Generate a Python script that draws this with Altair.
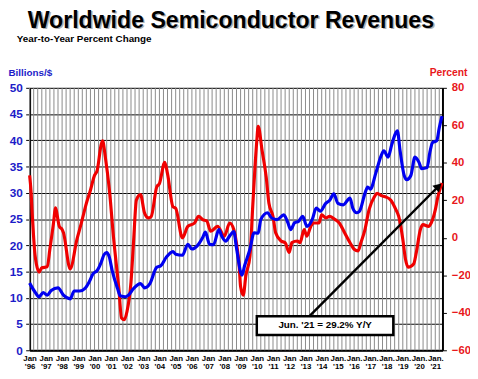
import altair as alt
import pandas as pd

TITLE = "Worldwide Semiconductor Revenues"
SUBTITLE = "Year-to-Year Percent Change"
LEFT_TITLE = "Billions/$"
RIGHT_TITLE = "Percent"
NOTE = "Jun. '21 = 29.2% Y/Y"

BLUE = "#0000f0"
BLUE_TXT = "#1c1cc8"
RED = "#f00000"
RED_TXT = "#e8181c"
FONT = "Liberation Sans"

# Monthly revenues (3-month average), billions of dollars
rev_months = [
    "1996-01", "1996-05", "1996-08", "1996-11", "1997-02", "1997-05", "1997-10",
    "1998-02", "1998-07", "1998-10", "1999-02", "1999-06", "1999-09", "1999-12",
    "2000-03", "2000-06", "2000-08", "2000-10", "2000-12", "2001-02", "2001-06",
    "2001-08", "2001-12", "2002-02", "2002-06", "2002-11", "2003-02", "2003-06",
    "2003-11", "2004-02", "2004-06", "2004-11", "2005-01", "2005-06", "2005-10",
    "2006-01", "2006-05", "2006-09", "2006-11", "2007-02", "2007-05", "2007-09",
    "2007-11", "2008-02", "2008-05", "2008-08", "2008-10", "2009-02", "2009-04",
    "2009-08", "2009-11", "2010-02", "2010-04", "2010-09", "2010-12", "2011-04",
    "2011-09", "2011-12", "2012-02", "2012-05", "2012-08", "2012-11", "2013-02",
    "2013-06", "2013-09", "2013-12", "2014-04", "2014-07", "2014-10", "2015-01",
    "2015-05", "2015-10", "2015-12", "2016-03", "2016-05", "2016-09", "2016-11",
    "2017-01", "2017-05", "2017-09", "2017-11", "2018-02", "2018-05", "2018-08",
    "2018-09", "2018-11", "2019-02", "2019-04", "2019-07", "2019-10", "2020-01",
    "2020-03", "2020-07", "2020-09", "2020-11", "2021-02", "2021-04", "2021-06",
]
rev_values = [
    12.8, 11.1, 10.2, 11.0, 10.5, 11.4, 11.9,
    10.5, 9.8, 11.3, 11.3, 11.8, 13.0, 14.6,
    15.2, 16.8, 18.2, 18.6, 17.7, 15.2, 11.8,
    10.4, 10.2, 10.5, 11.8, 12.7, 11.9, 12.7,
    15.8, 16.1, 17.7, 18.8, 18.3, 18.1, 20.2,
    19.3, 19.9, 21.5, 22.5, 20.2, 20.1, 23.0,
    21.8, 20.8, 21.8, 22.6, 19.5, 14.3, 16.1,
    19.3, 22.4, 22.3, 24.9, 26.2, 25.2, 24.9,
    25.8, 24.3, 23.0, 24.3, 24.6, 25.5, 23.6,
    24.9, 27.1, 26.5, 28.0, 28.6, 29.8, 28.0,
    27.7, 29.0, 27.1, 26.2, 26.5, 29.9, 31.1,
    30.7, 33.7, 37.1, 38.0, 36.8, 39.3, 41.5,
    41.8, 38.0, 33.3, 32.5, 33.3, 36.8, 35.8,
    34.6, 34.8, 37.7, 39.6, 39.9, 42.4, 44.6,
]

# Year-to-year percent change
pct_months = [
    "1996-01", "1996-02", "1996-03", "1996-04", "1996-05", "1996-06", "1996-08",
    "1996-10", "1997-02", "1997-04", "1997-07", "1997-08", "1997-11", "1998-01",
    "1998-02", "1998-07", "1998-12", "1999-03", "1999-07", "1999-10", "2000-01",
    "2000-03", "2000-06", "2000-07", "2000-09", "2000-12", "2001-03", "2001-07",
    "2001-09", "2001-11", "2002-01", "2002-04", "2002-06", "2002-08", "2002-11",
    "2003-02", "2003-05", "2003-07", "2003-11", "2004-01", "2004-05", "2004-07",
    "2004-11", "2005-01", "2005-06", "2005-10", "2006-03", "2006-06", "2006-09",
    "2006-12", "2007-03", "2007-08", "2008-01", "2008-05", "2008-08", "2008-10",
    "2008-12", "2009-01", "2009-03", "2009-05", "2009-08", "2009-10", "2010-01",
    "2010-02", "2010-05", "2010-08", "2010-10", "2011-01", "2011-03", "2011-07",
    "2011-10", "2012-01", "2012-03", "2012-07", "2012-09", "2012-12", "2013-02",
    "2013-05", "2013-07", "2013-11", "2014-01", "2014-04", "2014-07", "2014-11",
    "2015-02", "2015-06", "2015-10", "2016-01", "2016-04", "2016-06", "2016-09",
    "2016-12", "2017-04", "2017-06", "2017-09", "2017-12", "2018-04", "2018-08",
    "2018-10", "2019-01", "2019-03", "2019-05", "2019-09", "2019-11", "2020-02",
    "2020-04", "2020-08", "2020-10", "2021-01", "2021-03", "2021-06",
]
pct_values = [
    33.3, 25.0, 12.0, 0.0, -9.0, -14.0, -18.3,
    -16.0, -15.5, -6.0, 9.7, 16.0, 6.0, 4.4,
    2.7, -16.6, -0.8, 7.0, 18.4, 25.4, 33.3,
    36.0, 49.9, 51.7, 42.9, 25.4, 0.9, -27.0,
    -42.8, -43.7, -39.3, -23.6, -0.8, 20.2, 23.0,
    13.2, 10.6, 11.4, 27.1, 28.9, 40.3, 34.2,
    16.6, 15.8, 0.0, 6.1, 7.9, 11.4, 9.7,
    9.0, 3.5, 6.1, 0.9, 7.9, 4.4, -3.0,
    -15.0, -26.0, -30.6, -20.0, -9.6, 16.6, 51.7,
    59.5, 46.4, 32.4, 18.4, 11.4, 2.7, -1.7,
    -2.6, -7.8, -2.6, -1.7, -2.6, 4.4, 0.9,
    6.1, 7.9, 7.9, 12.3, 10.6, 11.4, 9.7,
    7.9, 2.7, -2.6, -6.1, -7.0, -2.6, 4.4,
    14.9, 21.9, 23.7, 22.5, 21.9, 20.2, 14.9,
    11.4, -0.8, -11.3, -15.7, -14.0, -7.8, 4.4,
    7.0, 6.1, 7.9, 14.9, 21.9, 29.2,
]

left_ticks = [0, 5, 10, 15, 20, 25, 30, 35, 40, 45, 50]
right_ticks = [80, 60, 40, 20, 0, -20, -40, -60]
label_years = list(range(1996, 2022))

# annotation anchors (date, percent)
arrow_from = ("2013-04-01", -41.8)
arrow_to = ("2021-03-15", 27.5)
box_x = ("2010-01-01", "2018-06-01")
box_y = (-41.8, -51.8)
note_at = ("2014-03-20", -46.8)

rev_df = pd.DataFrame({"date": [m + "-01" for m in rev_months], "value": rev_values})
pct_df = pd.DataFrame({"date": [m + "-01" for m in pct_months], "value": pct_values})
grid_df = pd.DataFrame({"date": pd.date_range("1996-01-01", "2021-04-01", freq="QS").strftime("%Y-%m-%d")})

W, H = 420, 267

x_scale = alt.Scale(
    type="utc",
    domain=[alt.DateTime(year=1996, month=1, date=1, utc=True),
            alt.DateTime(year=2021, month=6, date=12, utc=True)],
)
x_axis = alt.Axis(
    orient="bottom",
    values=[alt.DateTime(year=y, month=1, date=1, utc=True) for y in label_years],
    labelExpr="[utcyear(datum.value) >= 2015 ? 'Jan.' : 'Jan', \"'\" + utcFormat(datum.value, '%y')]",
    grid=False, ticks=False, domainColor="black", domainWidth=2,
    labelFont=FONT, labelFontSize=8, labelFontWeight="bold", labelColor="black",
    labelPadding=4, labelLineHeight=9, labelOverlap=False, labelBound=False, labelFlush=False,
    title=None,
)
X = alt.X("date:T", scale=x_scale, axis=x_axis)

pct_scale = alt.Scale(domain=[-60, 80], nice=False, zero=False)

vgrid = alt.Chart(grid_df).mark_rule(color="#8a8a8a", strokeWidth=1).encode(x=X)

red = alt.Chart(pct_df).mark_line(
    color=RED, strokeWidth=3.2, interpolate="monotone", strokeJoin="round"
).encode(
    x=X,
    y=alt.Y("value:Q", scale=pct_scale, axis=alt.Axis(
        orient="right", values=right_ticks, grid=False,
        domainColor="black", domainWidth=2, tickColor="black", tickSize=4, tickWidth=1,
        labelFont=FONT, labelFontSize=11.5, labelFontWeight="bold", labelColor=RED_TXT, labelPadding=5,
        title=RIGHT_TITLE, titleAngle=0, titleX=25, titleY=-13, titleAlign="right",
        titleBaseline="alphabetic", titleFont=FONT, titleFontSize=10.5, titleFontWeight="bold",
        titleColor=RED_TXT,
    )),
)

blue = alt.Chart(rev_df).mark_line(
    color=BLUE, strokeWidth=3.2, interpolate="monotone", strokeJoin="round"
).encode(
    x=X,
    y=alt.Y("value:Q", scale=alt.Scale(domain=[0, 50], nice=False), axis=alt.Axis(
        orient="left", values=left_ticks, grid=True, gridColor="black", gridWidth=1, gridOpacity=1,
        domainColor="black", domainWidth=2, tickColor="black", tickSize=4, tickWidth=1,
        labelFont=FONT, labelFontSize=12, labelFontWeight="bold", labelColor=BLUE_TXT, labelPadding=3.5,
        title=LEFT_TITLE, titleAngle=0, titleX=-22, titleY=-13, titleAlign="left",
        titleBaseline="alphabetic", titleFont=FONT, titleFontSize=10, titleFontWeight="bold",
        titleColor=BLUE_TXT,
    )),
)

ann_df = pd.DataFrame({
    "date": [arrow_from[0]], "date2": [arrow_to[0]],
    "p": [arrow_from[1]], "p2": [arrow_to[1]],
})
arrow = alt.Chart(ann_df).mark_rule(color="black", strokeWidth=2.5).encode(
    x=X, x2="date2:T",
    y=alt.Y("p:Q", scale=pct_scale, axis=None), y2="p2:Q",
)
head = alt.Chart(pd.DataFrame({"date": [arrow_to[0]], "p": [arrow_to[1]]})).mark_point(
    shape="triangle-up", angle=45, size=90, filled=True, color="black", opacity=1
).encode(x=X, y=alt.Y("p:Q", scale=pct_scale, axis=None))

box_df = pd.DataFrame({"date": [box_x[0]], "date2": [box_x[1]], "p": [box_y[0]], "p2": [box_y[1]]})
box = alt.Chart(box_df).mark_rect(fill="white", stroke="black", strokeWidth=2.5).encode(
    x=X, x2="date2:T", y=alt.Y("p:Q", scale=pct_scale, axis=None), y2="p2:Q",
)
note = alt.Chart(pd.DataFrame({"date": [note_at[0]], "p": [note_at[1]], "t": [NOTE]})).mark_text(
    font=FONT, fontSize=10, fontWeight="bold", color="black", align="center", baseline="middle"
).encode(x=X, y=alt.Y("p:Q", scale=pct_scale, axis=None), text="t:N")

annotations = alt.layer(arrow, head, box, note)

title_df = pd.DataFrame({"t": [TITLE]})
title_shadow = alt.Chart(title_df).mark_text(
    font=FONT, fontSize=23.5, fontWeight="bold", color="#b0b0b0", align="left", baseline="alphabetic",
    dx=1.5, dy=1.5,
).encode(text="t:N", x=alt.value(-2), y=alt.value(-61))
title_txt = alt.Chart(title_df).mark_text(
    font=FONT, fontSize=23.5, fontWeight="bold", color="black", align="left", baseline="alphabetic",
).encode(text="t:N", x=alt.value(-2), y=alt.value(-61))
sub_txt = alt.Chart(pd.DataFrame({"t": [SUBTITLE]})).mark_text(
    font=FONT, fontSize=10, fontWeight="bold", color="black", align="left", baseline="alphabetic",
).encode(text="t:N", x=alt.value(-13), y=alt.value(-47))

chart = alt.layer(
    vgrid, red, blue, annotations, title_shadow, title_txt, sub_txt
).resolve_scale(y="independent").properties(
    width=W, height=H,
    autosize=alt.AutoSizeParams(type="none"),
    padding={"left": 22, "top": 78, "right": 28, "bottom": 26},
).configure_view(stroke=None).configure(background="white")

chart.save("out.html", embed_options={"renderer": "svg", "actions": False})
